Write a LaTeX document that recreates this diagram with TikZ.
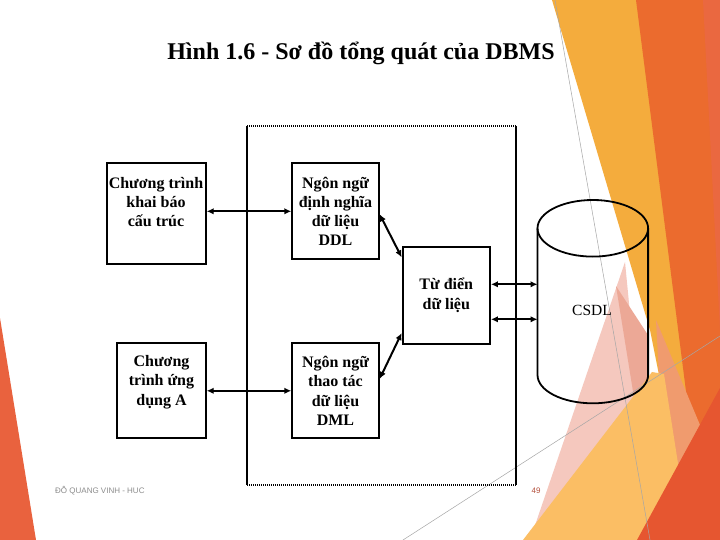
\documentclass[tikz,border=0pt]{standalone}
\usepackage{fontspec}
\setmainfont{Liberation Serif}
\setsansfont{Liberation Sans}
\usetikzlibrary{arrows.meta,calc}
\definecolor{bandA}{RGB}{244,172,61}
\definecolor{bandB}{RGB}{235,107,46}
\definecolor{bandC}{RGB}{234,104,64}
\definecolor{pinkA}{RGB}{245,200,190}
\definecolor{pinkB}{RGB}{236,168,150}
\definecolor{yellA}{RGB}{251,190,100}
\definecolor{salm}{RGB}{240,155,110}
\definecolor{redA}{RGB}{230,86,48}
\definecolor{leftO}{RGB}{233,98,62}
\definecolor{footgray}{RGB}{140,140,140}
\definecolor{pagecol}{RGB}{180,80,60}
\begin{document}
\begin{tikzpicture}[x=1pt,y=-1pt,
  box/.style={draw=black, line width=2pt, inner sep=0pt},
  lbl/.style={font=\bfseries\fontsize{16}{19.2}\selectfont, align=center, inner sep=0pt},
  arr/.style={line width=2pt, {Latex[length=7pt,width=6.5pt]}-{Latex[length=7pt,width=6.5pt]}},
  cyl/.style={draw=black, line width=1.8pt},
  thin/.style={draw=black!35, line width=0.5pt}]
\useasboundingbox (0,0) rectangle (720,540);
\fill[white] (0,0) rectangle (720,540);
% background decoration
\fill[leftO] (0,318) -- (36,540) -- (0,540) -- cycle;
\fill[bandA] (552,0) -- (720,0) -- (720,540) -- (675,540) -- (662,390) -- (650,330) -- cycle;
\fill[bandB] (636,0) -- (720,0) -- (720,540) -- (705,540) -- cycle;
\fill[bandC] (703,0) -- (720,0) -- (720,330) -- cycle;
\fill[pinkA] (625,262) -- (530,540) -- (652,540) -- cycle;
\fill[pinkB] (616,286) -- (648,335) -- (648,398) -- (636,410) -- cycle;
\fill[salm] (656,320) -- (700,425) -- (676,470) -- (662,430) -- cycle;
\fill[yellA] (523,540) -- (652,372) -- (664,374) -- (690,540) -- cycle;
\fill[redA] (637,540) -- (720,388) -- (720,540) -- cycle;
\draw[thin] (555,0) -- (650,540);
\draw[thin] (403,540) -- (720,336);
% title
\node[font=\bfseries\fontsize{24}{28}\selectfont, anchor=base, inner sep=0pt] (title) at (361,60) {Hình 1.6 - Sơ đồ tổng quát của DBMS};
% frame
\draw[line width=2pt] (247,126) -- (247,485);
\draw[line width=2pt] (516,126) -- (516,485);
\draw[line width=1.6pt, dash pattern=on 1pt off 1pt] (247,126) -- (516,126);
\draw[line width=1.6pt, dash pattern=on 1pt off 1pt] (247,485) -- (516,485);
% boxes
\node[box, minimum width=98.4pt, minimum height=101pt] (b1) at (156.5,213.8) {};
\node[lbl] (t1) at (156,202) {Chương trình\\khai báo\\cấu trúc};
\node[box, minimum width=88.4pt, minimum height=95pt] (b2) at (161.5,390.8) {};
\node[lbl, font=\bfseries\fontsize{16}{19.5}\selectfont] (t2) at (161.5,382) {Chương\\trình ứng\\dụng A};
\node[box, lbl, minimum width=86.4pt, minimum height=96pt] (ddl) at (335.5,211.3) {Ngôn ngữ\\định nghĩa\\dữ liệu\\DDL};
\node[box, lbl, minimum width=86.4pt, minimum height=95pt] (dml) at (335.5,390.8) {Ngôn ngữ\\thao tác\\dữ liệu\\DML};
\node[box, lbl, font=\bfseries\fontsize{16}{20}\selectfont, minimum width=87.3pt, minimum height=96.7pt] (td) at (446.3,295.7) {Từ điển\\dữ liệu};
% cylinder
\draw[cyl] (592.8,228.3) ellipse [x radius=55.3pt, y radius=28.3pt];
\draw[cyl] (537.5,228.3) -- (537.5,375) arc[start angle=180, end angle=360, x radius=55.3pt, y radius=28.3pt] -- (648.1,228.3);
\coordinate (cylL) at (537.5,300);
\node[font=\fontsize{15.5}{18}\selectfont, inner sep=0pt] (csdl) at (592,310) {CSDL};
% connectors
\draw[arr] (b1.east |- ddl.west) -- (ddl.west);
\draw[arr] (b2.east |- dml.west) -- (dml.west);
\draw[arr] ([yshift=-3pt]ddl.east) -- ([yshift=-11pt]td.north west);
\draw[arr] ([yshift=12pt]dml.east) -- ([yshift=12pt]td.south west);
\draw[arr] ([yshift=11.4pt]td.east) -- ([yshift=11.4pt]td.east -| cylL);
\draw[arr] ([yshift=-23.6pt]td.east) -- ([yshift=-23.6pt]td.east -| cylL);
% footer
\node[anchor=base west, font=\sffamily\fontsize{8}{10}\selectfont, text=footgray, inner sep=0pt] (foot) at (55,493) {ĐỖ QUANG VINH - HUC};
\node[anchor=base, font=\sffamily\fontsize{8}{10}\selectfont, text=pagecol, inner sep=0pt] (pg) at (536,493) {49};
\end{tikzpicture}
\end{document}
